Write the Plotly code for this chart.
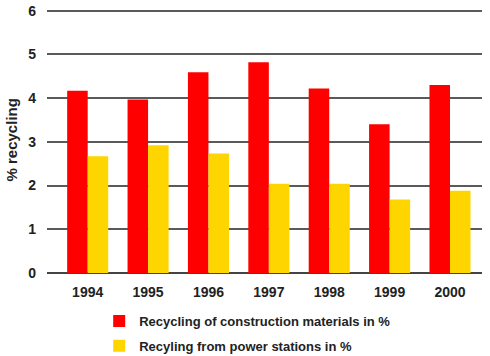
import plotly.graph_objects as go

years = ["1994", "1995", "1996", "1997", "1998", "1999", "2000"]
construction = [4.17, 3.97, 4.59, 4.82, 4.22, 3.40, 4.30]
power_stations = [2.67, 2.92, 2.73, 2.04, 2.04, 1.68, 1.88]
y_ticks = [0, 1, 2, 3, 4, 5, 6]

xpos = list(range(len(years)))

fig = go.Figure()
fig.add_trace(go.Bar(x=xpos, y=construction, name="Recycling of construction materials in %",
                     legendgroup="a",
                     marker=dict(color="#ff0000", line=dict(width=0))))
fig.add_trace(go.Bar(x=xpos, y=power_stations, name="Recyling from power stations in %",
                     legendgroup="b",
                     marker=dict(color="#ffd500", line=dict(width=0))))

font = dict(family="Liberation Sans, Arial, sans-serif", size=14, color="#222222", weight="bold")
legfont = dict(family="Liberation Sans, Arial, sans-serif", size=13, color="#222222", weight="bold")
titlefont = dict(family="Liberation Sans, Arial, sans-serif", size=15, color="#222222", weight="bold")

W, H = 490, 356

fig.update_layout(
    width=W, height=H,
    margin=dict(l=47, r=8, t=8, b=83, autoexpand=False),
    paper_bgcolor="white", plot_bgcolor="white",
    barmode="group", bargap=0.32, bargroupgap=0,
    font=font,
    showlegend=True,
    legend=dict(x=0.12, xanchor="left", yref="container", y=1 - 306 / H, yanchor="top",
                orientation="v", font=legfont,
                bgcolor="rgba(0,0,0,0)", itemwidth=30, tracegroupgap=5),
    xaxis=dict(range=[-0.674, 6.53], tickmode="array", tickvals=xpos, ticktext=years,
               showgrid=False, zeroline=False, showline=False, ticks="",
               tickfont=font, ticklabelstandoff=9, fixedrange=True),
    yaxis=dict(range=[0, 6.06], tickmode="array", tickvals=y_ticks, showgrid=True,
               gridcolor="#5a5a5a", gridwidth=1.5, zeroline=True, zerolinecolor="#444444",
               zerolinewidth=1.5, showline=False, ticks="", tickfont=font, ticklabelstandoff=10,
               fixedrange=True),
    annotations=[dict(text="% recycling", textangle=-90, xref="paper", yref="paper",
                      x=(11 - 47) / 435, y=0.5, xanchor="center", yanchor="middle",
                      showarrow=False, font=titlefont)],
)

fig.write_html("out.html", config={"displayModeBar": False},
               post_script="document.body.style.margin='0';")
